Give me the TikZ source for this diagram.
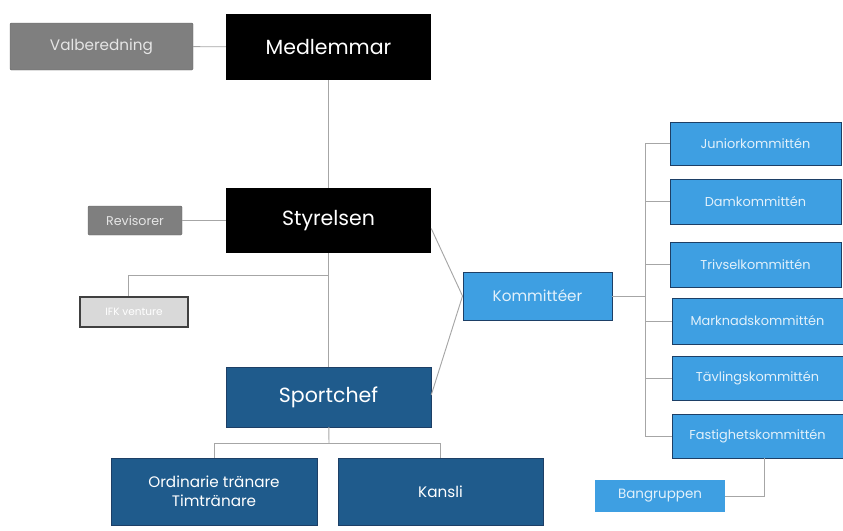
\documentclass[tikz,border=0pt]{standalone}
\usepackage{fontspec}
\setmainfont{Poppins}
\usepackage{tikz}
\usetikzlibrary{positioning}
\definecolor{boxgray}{HTML}{7F7F7F}
\definecolor{lightbox}{HTML}{D9D9D9}
\definecolor{darkblue}{HTML}{1F5B8C}
\definecolor{lightblue}{HTML}{3E9FE2}
\definecolor{edgeblue}{HTML}{1D3F66}
\definecolor{linegray}{HTML}{A6A6A6}
\tikzset{line/.style={draw, linegray, line width=0.8pt}}

\begin{document}
\begin{tikzpicture}[x=0.03cm, y=-0.03cm]
\tikzstyle{top} = [rectangle, fill=black, text=white, minimum width=205*0.03cm, inner sep=0pt, font=\fontsize{17.5}{20}\selectfont]
\tikzstyle{grey} = [rectangle, rounded corners=1pt, fill=boxgray, draw=black!60, text=white!80!gray, inner sep=0pt, font=\fontsize{13}{15}\selectfont]
\tikzstyle{pale} = [rectangle, fill=lightbox, draw=black!75, line width=1pt, text=white, inner sep=0pt, font=\fontsize{9}{10}\selectfont]
\tikzstyle{dark} = [rectangle, fill=darkblue, draw=edgeblue, text=white, inner sep=0pt, align=center, minimum height=67*0.03cm, font=\fontsize{13}{16}\selectfont]
\tikzstyle{comm} = [rectangle, fill=lightblue, draw=edgeblue, line width=0.8pt, text=white!85!lightblue, inner sep=0pt, minimum width=171*0.03cm, font=\fontsize{11}{13}\selectfont]

\useasboundingbox (0,0) rectangle (843,530);

% ledning
\node [grey, minimum width=183*0.03cm, minimum height=47*0.03cm] (valb) at (101.5,46.5) {Valberedning};
\node [top, minimum height=66*0.03cm] (medl) at (328.5,47) {Medlemmar};
\node [top, minimum height=65*0.03cm] (styr) at (328.5,220.5) {Styrelsen};
\node [grey, minimum width=94*0.03cm, minimum height=29*0.03cm, font=\fontsize{10.8}{12}\selectfont] (revi) at (135,220.5) {Revisorer};
\node [pale, minimum width=108*0.03cm, minimum height=30*0.03cm] (ifk) at (134,312) {IFK venture};
\node [dark, minimum width=205*0.03cm, minimum height=60*0.03cm, font=\fontsize{17.5}{20}\selectfont] (sport) at (328.5,397) {Sportchef};
\node [dark, minimum width=206*0.03cm] (ord) at (214,491.5) {Ordinarie tränare\\Timtränare};
\node [dark, minimum width=205*0.03cm] (kansli) at (440.5,491.5) {Kansli};

% kommittéer
\node [comm, minimum width=149*0.03cm, minimum height=48*0.03cm, font=\fontsize{13}{15}\selectfont] (komm) at (537.5,296) {Kommittéer};
\node [comm, minimum height=43*0.03cm] (junior) at (755.5,143.5) {Juniorkommittén};
\node [comm, minimum height=45*0.03cm] (dam) at (755.5,201.5) {Damkommittén};
\node [comm, minimum height=45*0.03cm] (trivsel) at (755.5,264.5) {Trivselkommittén};
\node [comm, minimum height=46*0.03cm] (marknad) at (757.5,321) {Marknadskommittén};
\node [comm, minimum height=44*0.03cm] (tavling) at (757.5,378) {Tävlingskommittén};
\node [comm, minimum height=44*0.03cm] (fastighet) at (757.5,436) {Fastighetskommittén};
\node [comm, draw=none, minimum width=130*0.03cm, minimum height=32*0.03cm, font=\fontsize{11.5}{13}\selectfont] (bang) at (660,496) {Bangruppen};

\coordinate (split) at (645,296);
\coordinate (ifkhook) at (128,275);
\coordinate (sporthook) at (329,443);

\path [line] (valb) -- (medl);
\path [line] (medl) -- (styr);
\path [line] (revi) -- (styr);
\path [line] (styr) -- (sport);
\path [line] (ifkhook -| styr) -- (ifkhook) -- (ifk.north -| ifkhook);
\path [line] (styr.east) ++(0,8) -- (komm.west);
\path [line] (sport.east) ++(0,-2) -- (komm.west);
\path [line] (komm) -- (split);
\path [line] (split |- junior) -- (split |- fastighet);
\foreach \c in {junior, dam, trivsel, marknad, tavling, fastighet}
  \path [line] (split |- \c) -- (\c.west);
\path [line] (fastighet.south) ++(7,0) |- (bang.east);
\path [line] (sport) -- (sporthook);
\path [line] (sporthook -| ord) -- (sporthook -| kansli);
\path [line] (sporthook -| ord) -- (ord.north);
\path [line] (sporthook -| kansli) -- (kansli.north);

\end{tikzpicture}
\end{document}
